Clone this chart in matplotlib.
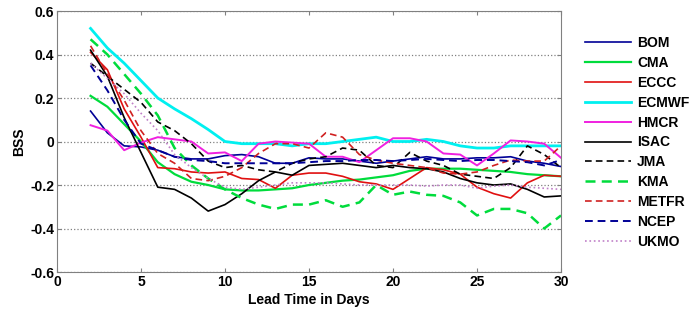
import matplotlib.pyplot as plt

plt.rcParams['font.family'] = ['Liberation Sans', 'DejaVu Sans']
plt.rcParams['font.weight'] = 'bold'

# lead time (days)
days = list(range(2, 31))

# BSS per model
bom = [0.14, 0.04, -0.02, -0.025, -0.04, -0.07, -0.08, -0.08, -0.065, -0.06, -0.07, -0.10, -0.10, -0.075,
       -0.08, -0.08, -0.09, -0.10, -0.09, -0.08, -0.07, -0.08, -0.08, -0.075, -0.075, -0.07, -0.09, -0.10, -0.115]
cma = [0.21, 0.16, 0.08, 0.0, -0.095, -0.15, -0.185, -0.20, -0.22, -0.225, -0.225, -0.22, -0.215, -0.20,
       -0.19, -0.18, -0.175, -0.165, -0.155, -0.135, -0.125, -0.125, -0.125, -0.13, -0.135, -0.14, -0.15, -0.155, -0.16]
eccc = [0.41, 0.33, 0.15, 0.02, -0.12, -0.125, -0.14, -0.145, -0.14, -0.17, -0.175, -0.215, -0.155, -0.145,
        -0.145, -0.16, -0.185, -0.195, -0.22, -0.17, -0.12, -0.13, -0.15, -0.21, -0.24, -0.26, -0.19, -0.155, -0.16]
ecmwf = [0.52, 0.43, 0.36, 0.28, 0.20, 0.15, 0.105, 0.055, 0.0, -0.01, -0.01, -0.01, -0.02, -0.01,
         -0.01, 0.0, 0.01, 0.02, 0.0, 0.0, 0.01, 0.0, -0.02, -0.03, -0.03, -0.02, -0.02, -0.02, -0.02]
hmcr = [0.075, 0.05, -0.04, -0.005, 0.02, 0.01, 0.0, -0.055, -0.05, -0.09, -0.01, 0.0, -0.005, -0.01,
        -0.07, -0.07, -0.095, -0.04, 0.015, 0.015, 0.0, -0.055, -0.06, -0.11, -0.055, 0.005, 0.0, -0.01, -0.075]
isac = [0.42, 0.30, 0.11, -0.05, -0.21, -0.22, -0.26, -0.32, -0.29, -0.24, -0.18, -0.14, -0.155, -0.11,
        -0.105, -0.10, -0.11, -0.12, -0.11, -0.12, -0.125, -0.14, -0.17, -0.19, -0.20, -0.195, -0.22, -0.255, -0.25]
jma = [0.36, 0.30, 0.24, 0.18, 0.09, 0.05, -0.01, -0.09, -0.12, -0.11, -0.13, -0.14, -0.10, -0.08,
       -0.07, -0.03, -0.04, -0.11, -0.12, -0.05, -0.09, -0.11, -0.15, -0.16, -0.17, -0.12, -0.02, -0.06, -0.12]
kma = [0.47, 0.40, 0.31, 0.22, 0.12, -0.03, -0.11, -0.17, -0.22, -0.26, -0.29, -0.31, -0.29, -0.29,
       -0.27, -0.30, -0.28, -0.20, -0.245, -0.23, -0.245, -0.25, -0.28, -0.34, -0.31, -0.31, -0.33, -0.40, -0.34]
metfr = [0.44, 0.31, 0.19, 0.05, -0.055, -0.10, -0.17, -0.18, -0.16, -0.12, -0.055, -0.01, -0.01, -0.03,
         0.04, 0.02, -0.06, -0.085, -0.10, -0.11, -0.12, -0.145, -0.15, -0.14, -0.11, -0.085, -0.09, -0.09, -0.02]
ncep = [0.35, 0.235, 0.10, -0.01, -0.04, -0.07, -0.085, -0.09, -0.10, -0.10, -0.10, -0.10, -0.10, -0.095,
        -0.09, -0.09, -0.085, -0.085, -0.09, -0.085, -0.08, -0.085, -0.09, -0.085, -0.085, -0.09, -0.095, -0.11, -0.085]
ukmo = [0.36, 0.29, 0.22, 0.13, 0.05, -0.06, -0.12, -0.17, -0.21, -0.22, -0.21, -0.20, -0.19, -0.19,
        -0.19, -0.195, -0.20, -0.20, -0.20, -0.20, -0.205, -0.20, -0.20, -0.215, -0.205, -0.20, -0.21, -0.215, -0.22]

fig = plt.figure(figsize=(6.99, 3.15), dpi=100)
ax = fig.add_axes([0.0815, 0.1365, 0.7211, 0.8285])

ax.plot(days, bom, color='#000096', lw=1.2, label='BOM')
ax.plot(days, cma, color='#00dc3c', lw=1.6, label='CMA')
ax.plot(days, eccc, color='#e01010', lw=1.2, label='ECCC')
ax.plot(days, ecmwf, color='#00f0f0', lw=2.0, label='ECMWF')
ax.plot(days, hmcr, color='#f020e0', lw=1.4, label='HMCR')
ax.plot(days, isac, color='black', lw=1.2, label='ISAC')
ax.plot(days, jma, color='black', lw=1.2, ls=(0, (4, 2.5)), label='JMA')
ax.plot(days, kma, color='#00dc3c', lw=1.8, ls=(0, (4, 2.5)), label='KMA')
ax.plot(days, metfr, color='#d02020', lw=1.2, ls=(0, (4, 2.5)), label='METFR')
ax.plot(days, ncep, color='#000096', lw=1.4, ls=(0, (4, 2.5)), label='NCEP')
ax.plot(days, ukmo, color='#c080c8', lw=1.2, ls=':', label='UKMO')

ax.set_xlim(0, 30)
ax.set_ylim(-0.6, 0.6)
ax.set_xticks([0, 5, 10, 15, 20, 25, 30])
ax.set_yticks([-0.6, -0.4, -0.2, 0, 0.2, 0.4, 0.6])
ax.set_yticklabels(['-0.6', '-0.4', '-0.2', '0', '0.2', '0.4', '0.6'])
ax.yaxis.grid(True, ls=':', color='#808080', lw=0.9)

for s in ax.spines.values():
    s.set_color('#808080')
ax.tick_params(direction='in', top=True, right=True, color='#808080', labelsize=10, length=3, pad=2)

ax.set_xlabel('Lead Time in Days', fontsize=10, fontweight='bold', labelpad=3)
ax.set_ylabel('BSS', fontsize=10, fontweight='bold', labelpad=3)

ax.legend(loc='upper left', bbox_to_anchor=(0.837, 0.885), bbox_transform=fig.transFigure,
          frameon=False, fontsize=10, handlelength=3.3, handletextpad=0.45, labelspacing=0.42,
          borderaxespad=0, borderpad=0)

plt.savefig('out.png', dpi=100)
